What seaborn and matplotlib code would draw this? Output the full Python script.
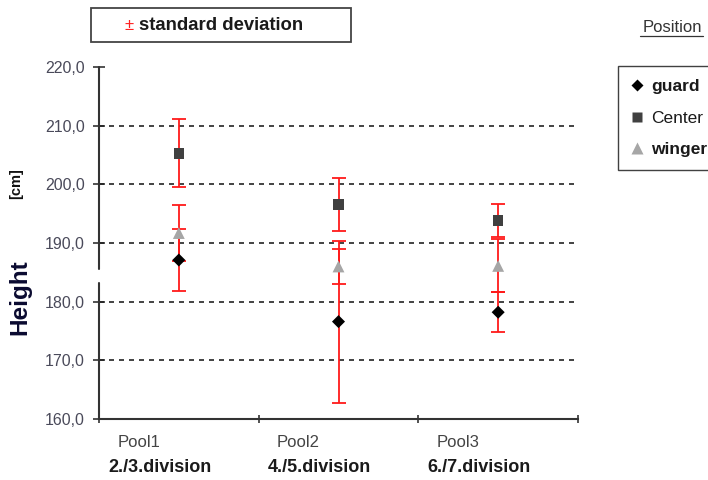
import numpy as np
import pandas as pd
import matplotlib
matplotlib.use("Agg")
import matplotlib.pyplot as plt
import matplotlib.transforms as mtransforms
from matplotlib.lines import Line2D
from matplotlib.patches import Rectangle
import seaborn as sns

# ---- data ----
pools = ["Pool1", "Pool2", "Pool3"]
divisions = ["2./3.division", "4./5.division", "6./7.division"]
positions = ["guard", "Center", "winger"]
guard_mean = [187.1, 176.6, 178.2]
guard_sd = [5.3, 13.8, 3.4]
center_mean = [205.3, 196.6, 193.85]
center_sd = [5.8, 4.5, 2.85]
winger_mean = [191.7, 186.0, 186.1]
winger_sd = [4.8, 3.0, 4.5]
yticks = [160, 170, 180, 190, 200, 210, 220]

means = {"guard": guard_mean, "Center": center_mean, "winger": winger_mean}
sds = {"guard": guard_sd, "Center": center_sd, "winger": winger_sd}
rows = []
for p in positions:
    for i, pool in enumerate(pools):
        rows.append({"Pool": pool, "idx": i, "Position": p,
                     "Height": means[p][i], "sd": sds[p][i]})
df = pd.DataFrame(rows)

sns.set_theme(style="white")
plt.rcParams["font.family"] = ["Liberation Sans", "DejaVu Sans"]

W, H = 708, 480
fig = plt.figure(figsize=(W / 100, H / 100), dpi=100)
ax = fig.add_axes([99 / W, 1 - 419 / H, (578 - 99) / W, (419 - 67) / H])

palette = {"guard": "#000000", "Center": "#404040", "winger": "#a6a6a6"}
markers = {"guard": "D", "Center": "s", "winger": "^"}
sizes = {"guard": 7, "Center": 8, "winger": 9}

# error bars
for p in positions:
    sub = df[df.Position == p]
    ax.errorbar(sub["idx"], sub["Height"], yerr=sub["sd"], fmt="none",
                ecolor="#ff1a1a", elinewidth=1.3, capsize=4.7, capthick=1.3,
                zorder=2)

# markers through seaborn
for p in positions:
    sub = df[df.Position == p]
    sns.scatterplot(data=sub, x="idx", y="Height", marker=markers[p],
                    color=palette[p], s=sizes[p] ** 2 * 0.9, edgecolor="none",
                    ax=ax, zorder=3, legend=False)

ax.set_xlim(-0.5, 2.5)
ax.set_ylim(160, 220)
ax.set_yticks(yticks)
ax.set_yticklabels([f"{v:.1f}".replace(".", ",") for v in yticks],
                   fontsize=11.5, color="#4a4a5a")
ax.set_xticks([-0.5, 0.5, 1.5, 2.5])
ax.set_xticklabels([])
ax.set_xlabel("")
ax.set_ylabel("")
ax.tick_params(axis="both", direction="inout", length=8, width=1.2,
               color="#333333", left=True, bottom=True, pad=6)
ax.tick_params(axis="x", length=6)

for y in [170, 180, 190, 200, 210]:
    ax.axhline(y, color="#222222", linestyle=(0, (3, 3)), linewidth=1.2, zorder=1)

for s in ["top", "right", "left"]:
    ax.spines[s].set_visible(False)
ax.spines["bottom"].set_color("#333333")
ax.spines["bottom"].set_linewidth(1.5)
# broken left axis
ax.axvline(-0.5, ymin=0, ymax=0.386, color="#333333", lw=1.5, clip_on=False)
ax.axvline(-0.5, ymin=0.426, ymax=1, color="#333333", lw=1.5, clip_on=False)

# category labels
trans = mtransforms.blended_transform_factory(ax.transData, ax.transAxes)
for i, (pool, div) in enumerate(zip(pools, divisions)):
    ax.text(i - 0.25, -0.068, pool, transform=trans, ha="center", va="center",
            fontsize=12, color="#444444")
    ax.text(i - 0.12, -0.138, div, transform=trans, ha="center", va="center",
            fontsize=13, fontweight="bold", color="#1a1a1a")

# y label
fig.text(20 / W, 1 - 297 / H, "Height", rotation=90, ha="center", va="center",
         fontsize=17.5, fontweight="bold", color="#0a0a30")
fig.text(16 / W, 1 - 184 / H, "[cm]", rotation=90, ha="center", va="center",
         fontsize=10.5, fontweight="bold", color="#111111")

# standard deviation box
fig.add_artist(Rectangle((91 / W, 1 - 42 / H), (351 - 91) / W, 34 / H,
                         transform=fig.transFigure, fill=False,
                         edgecolor="#444444", linewidth=1.3))
fig.text(129 / W, 1 - 25 / H, "±", ha="center", va="center", fontsize=12,
         color="#ff2020")
fig.text(139 / W, 1 - 25 / H, "standard deviation", ha="left", va="center",
         fontsize=13.3, fontweight="bold", color="#1a1a1a")

# Position header (underlined)
fig.text(672 / W, 1 - 27 / H, "Position", ha="center", va="center",
         fontsize=12, color="#333333")
fig.add_artist(Line2D([640 / W, 703 / W], [1 - 36 / H, 1 - 36 / H],
                      transform=fig.transFigure, color="#333333", lw=0.9))

# legend
handles = [Line2D([], [], linestyle="none", marker=markers[p],
                  markerfacecolor=palette[p], markeredgecolor="none",
                  markersize=sizes[p] - 1) for p in positions]
leg = ax.legend(handles, positions, loc="upper left",
                bbox_to_anchor=(618 / W, 1 - 66 / H),
                bbox_transform=fig.transFigure, frameon=True, fancybox=False,
                edgecolor="#111111", fontsize=12.5, handlelength=0.7,
                handletextpad=0.45, borderpad=0.75, labelspacing=0.95,
                borderaxespad=0)
leg.get_frame().set_linewidth(1.0)
for t, p in zip(leg.get_texts(), positions):
    t.set_color("#1a1a1a")
    if p != "Center":
        t.set_fontweight("bold")

fig.savefig("out.png", dpi=100)
